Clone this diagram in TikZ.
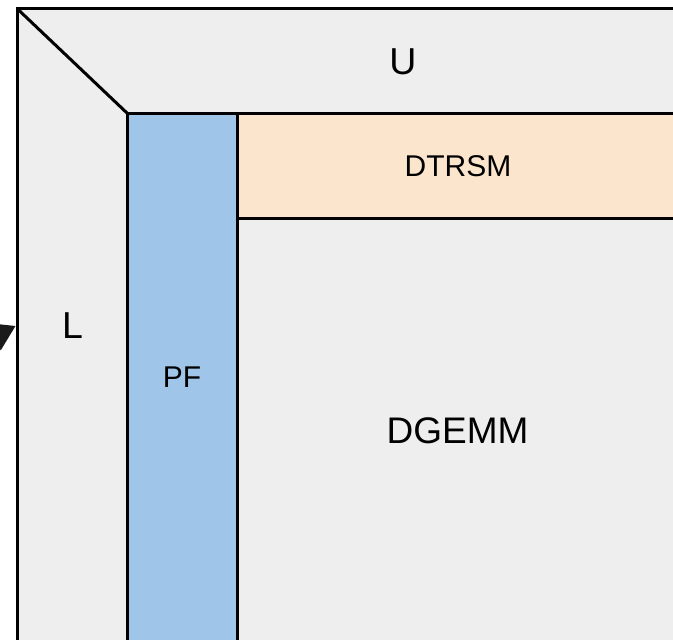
\documentclass[tikz,border=0pt]{standalone}
\usepackage{fontspec}
\setmainfont{Liberation Sans}
\usetikzlibrary{arrows.meta}
\definecolor{bgGrey}{HTML}{EEEEEE}
\definecolor{pfBlue}{HTML}{9FC5E8}
\definecolor{trsmPeach}{HTML}{FCE5CD}
\definecolor{arrowDark}{HTML}{1A1A1A}
\begin{document}
\begin{tikzpicture}[x=1pt,y=-1pt,
  edge/.style={line width=3pt, black},
  bigtext/.style={font=\fontsize{37.5}{40}\selectfont, inner sep=0pt, anchor=center},
  gemmtext/.style={font=\fontsize{37}{40}\selectfont, inner sep=0pt, anchor=center},
  smalltext/.style={font=\fontsize{30}{32}\selectfont, inner sep=0pt, anchor=center}]
\useasboundingbox (0,0) rectangle (673,640);
\clip (0,0) rectangle (673,640);
\fill[white] (0,0) rectangle (673,640);
\coordinate (outerTL) at (17,8.5);
\coordinate (outerTR) at (700,8.5);
\coordinate (outerBL) at (17,641);
\coordinate (outerBR) at (700,641);
\coordinate (innerTL) at (127.5,113.5);
\coordinate (innerTR) at (700,113.5);
\coordinate (pfBot) at (127.5,660);
\coordinate (splitTop) at (237,113.5);
\coordinate (splitBot) at (237,660);
\coordinate (trsmBL) at (237,218.5);
\coordinate (trsmBR) at (700,218.5);
% fills
\fill[bgGrey] (outerTL) rectangle (700,660);
\fill[pfBlue] (innerTL) rectangle (splitBot);
\fill[trsmPeach] (splitTop) rectangle (trsmBR);
% lines
\draw[edge] (outerTR) -- (outerTL) -- (outerBL) -- (outerBR);
\draw[edge] (outerTL) -- (innerTL);
\draw[edge] (innerTR) -- (innerTL) -- (pfBot);
\draw[edge] (splitTop) -- (splitBot);
\draw[edge] (trsmBL) -- (trsmBR);
% labels
\node[bigtext] (labU) at (403,61.5) {U};
\node[bigtext] (labL) at (72.5,325.5) {L};
\node[smalltext] (labPF) at (182,377.5) {PF};
\node[smalltext] (labTRSM) at (458,166.5) {DTRSM};
\node[gemmtext] (labGEMM) at (457.5,430.5) {DGEMM};
% arrow
\coordinate (arrowStart) at (-40,353.5);
\coordinate (arrowTip) at (15.5,326);
\draw[arrowDark, line width=2pt, -{Triangle[length=24pt,width=30pt]}] (arrowStart) -- (arrowTip);
\end{tikzpicture}
\end{document}
